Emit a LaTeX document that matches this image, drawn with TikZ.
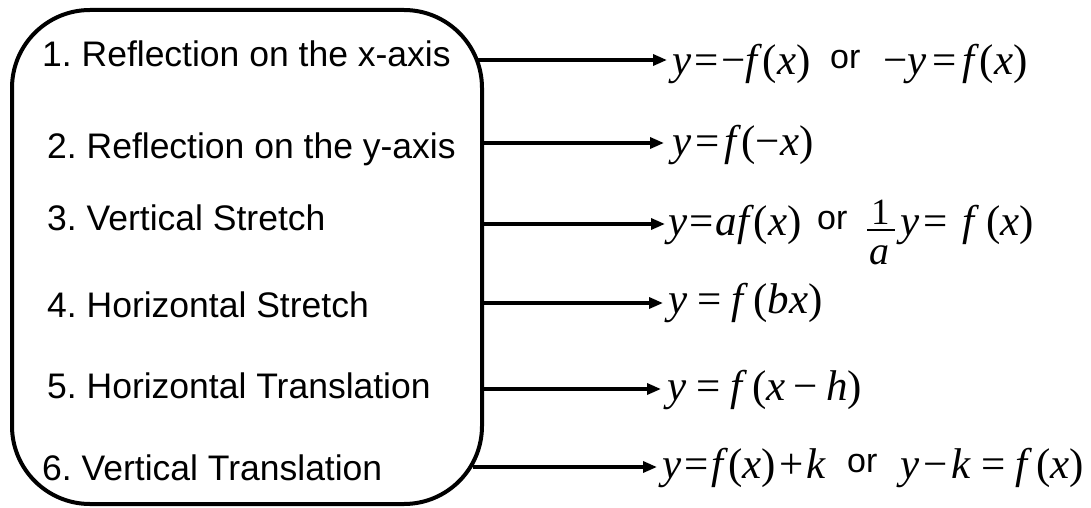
\documentclass[tikz,border=0pt]{standalone}
\usepackage{fontspec}
\setmainfont{Liberation Sans}
\newfontfamily\tm{Liberation Serif}
\usetikzlibrary{arrows.meta}
\newcommand\mi[1]{\textit{#1}}
\newcommand\gp[1]{\hspace{#1pt}}
\frenchspacing
\begin{document}
\begin{tikzpicture}[x=1pt,y=-1pt,
  item/.style={font=\fontsize{35.5}{40}\selectfont, inner sep=0pt, anchor=base west},
  fml/.style={font=\tm\fontsize{43}{46}\selectfont, inner sep=0pt, anchor=base west},
  ortext/.style={font=\fontsize{34}{38}\selectfont, inner sep=0pt, anchor=base west},
  arr/.style={line width=3.3pt, -{Triangle[length=14pt,width=11pt]}},
  frame/.style={draw, line width=4pt, rounded corners=78pt, inner sep=0pt,
    minimum width=470pt, minimum height=494pt}]
\useasboundingbox (0,0) rectangle (1091,508);
\node[frame] (box) at (247,257) {};
% left items
\node[item] (L1) at (42,67)  {1. Reflection on the x-axis};
\node[item] (L2) at (47,158) {2. Reflection on the y-axis};
\node[item] (L3) at (47,230) {3. Vertical Stretch};
\node[item] (L4) at (47,317) {4. Horizontal Stretch};
\node[item] (L5) at (47,398) {5. Horizontal Translation};
\node[item] (L6) at (42,480) {6. Vertical Translation};
% row 1
\node[fml] (F1) at (672,75) {\mi{y}\gp{3}=\gp{3}−\mi{f}(\mi{x})};
\node[ortext] (O1) at (830,69) {or};
\node[fml] (G1) at (883,75) {−\mi{y}\gp{6}=\gp{6}\mi{f}(\mi{x})};
% row 2
\node[fml] (F2) at (672,155) {\mi{y}\gp{4}=\gp{5}\mi{f}(−\mi{x})};
% row 3
\node[fml] (F3) at (668,235) {\mi{y}\gp{2}=\gp{2}\mi{a}\mi{f}(\mi{x})};
\node[ortext] (O3) at (817,229) {or};
\node[fml, font=\tm\fontsize{37}{40}\selectfont] (N3) at (871,224) {1};
\node[fml, font=\tm\fontsize{40}{44}\selectfont] (D3) at (869,264) {\mi{a}};
\draw[line width=2pt] (867,230) -- (895,230);
\node[fml] (G3) at (900,235) {\mi{y}\gp{4}=\gp{15}\mi{f}\gp{7}(\mi{x})};
% row 4
\node[fml] (F4) at (668,313) {\mi{y}\gp{10}=\gp{10}\mi{f}\gp{5}(\mi{b}\mi{x})};
% row 5
\node[fml] (F5) at (667,400) {\mi{y}\gp{10}=\gp{10}\mi{f}\gp{5}(\mi{x}\gp{8}−\gp{8}\mi{h})};
% row 6
\node[fml] (F6) at (662,478) {\mi{y}\gp{3}=\gp{3}\mi{f}(\mi{x})\gp{3}+\gp{3}\mi{k}};
\node[ortext] (O6) at (847,472) {or};
\node[fml] (G6) at (900,478) {\mi{y}\gp{4}−\gp{4}\mi{k}\gp{10}=\gp{10}\mi{f}\gp{4}(\mi{x})};
% arrow tips
\coordinate (a1) at (667,60);
\coordinate (a2) at (664,143);
\coordinate (a3) at (665,224);
\coordinate (a4) at (663,303);
\coordinate (a5) at (661,389);
\coordinate (a6) at (657,467);
\draw[arr] ([xshift=-6pt]box.east |- a1) -- (a1);
\draw[arr] (box.east |- a2) -- (a2);
\draw[arr] (box.east |- a3) -- (a3);
\draw[arr] (box.east |- a4) -- (a4);
\draw[arr] (box.east |- a5) -- (a5);
\draw[arr] ([xshift=-11pt]box.east |- a6) -- (a6);
\end{tikzpicture}
\end{document}
